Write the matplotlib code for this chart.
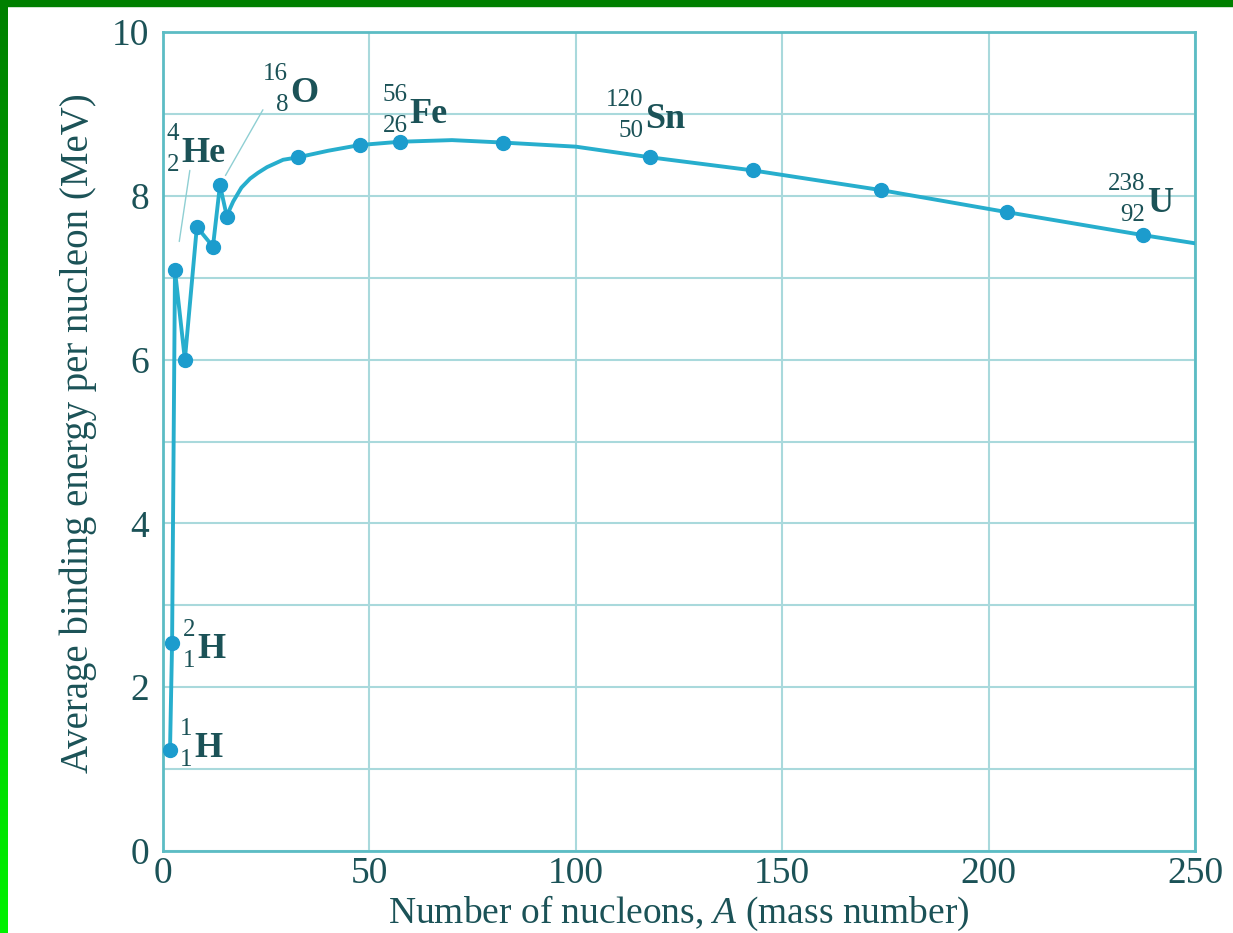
import numpy as np
import matplotlib
matplotlib.use("Agg")
import matplotlib.pyplot as plt
from matplotlib.patches import Rectangle
from matplotlib.ticker import MultipleLocator


# nuclides shown as dots
mass_numbers = [1.7, 2.2, 2.9, 5.3, 8.2, 12.1, 13.8, 15.5, 32.7, 47.7, 57.4,
                82.4, 118.0, 142.9, 173.9, 204.5, 237.4]
binding_energy = [1.23, 2.54, 7.09, 6.00, 7.62, 7.38, 8.13, 7.74, 8.47, 8.62, 8.66,
                  8.65, 8.47, 8.31, 8.07, 7.80, 7.52]

# connecting curve (includes the smooth bend after oxygen and the tail to A=250)
curve_A = [1.7, 2.2, 2.9, 5.3, 8.2, 12.1, 13.8, 15.5, 16.2, 17.0, 19.0, 21.1, 23.0, 25.2,
           29.1, 32.7, 40.0, 47.7, 57.4, 70.0, 82.4, 100.0, 118.0, 142.9, 173.9, 204.5,
           237.4, 250.0]
curve_E = [1.23, 2.54, 7.09, 6.00, 7.62, 7.38, 8.13, 7.74, 7.84, 7.93, 8.10, 8.21, 8.28, 8.35,
           8.44, 8.47, 8.55, 8.62, 8.66, 8.68, 8.65, 8.60, 8.47, 8.31, 8.07, 7.80,
           7.52, 7.42]

# isotope labels: symbol, mass number, atomic number
label_symbols = ["H", "H", "He", "O", "Fe", "Sn", "U"]
label_mass = ["1", "2", "4", "16", "56", "120", "238"]
label_charge = ["1", "1", "2", "8", "26", "50", "92"]

x_ticks = [0, 50, 100, 150, 200, 250]
y_ticks = [0, 2, 4, 6, 8, 10]

LINE = "#27aecd"
DOT = "#1c9ccd"
GRID = "#a9d9dc"
SPINE = "#5cbcc4"
INK = "#1b5257"
SERIF = ["Liberation Serif", "DejaVu Serif"]


def add_frame(fig):
    # dark green strip along the top, green gradient down the left side
    fig.patches.append(Rectangle((0, 1 - 6 / 933), 1, 6 / 933,
                                 transform=fig.transFigure, color="#008000", zorder=5))
    side = fig.add_axes([0, 0, 8 / 1233, 1])
    grad = np.linspace(0, 1, 256)
    cols = np.zeros((256, 1, 3))
    cols[:, 0, 1] = 0.5 + 0.45 * grad
    side.imshow(cols, aspect="auto", origin="upper")
    side.axis("off")


def plot_binding_energy():
    plt.rcParams["font.family"] = SERIF
    plt.rcParams["mathtext.fontset"] = "custom"
    plt.rcParams["mathtext.rm"] = "Liberation Serif"
    plt.rcParams["mathtext.it"] = "Liberation Serif:italic"

    fig = plt.figure(figsize=(12.33, 9.33), dpi=100)
    ax = fig.add_axes([163 / 1233, 1 - 851 / 933, (1195 - 163) / 1233, (851 - 32) / 933])

    ax.plot(curve_A, curve_E, color=LINE, lw=2.8, zorder=3,
            solid_joinstyle="round", solid_capstyle="round")
    ax.plot(mass_numbers, binding_energy, "o", color=DOT, ms=10, zorder=4)

    ax.set_xlim(0, 250)
    ax.set_ylim(0, 10)
    ax.set_xticks(x_ticks)
    ax.set_yticks(y_ticks)
    ax.yaxis.set_minor_locator(MultipleLocator(1))
    ax.grid(True, which="both", color=GRID, lw=1.5, zorder=1)
    ax.tick_params(which="both", length=0)
    ax.tick_params(axis="x", labelsize=27, labelcolor=INK, pad=4)
    ax.tick_params(axis="y", labelsize=27, labelcolor=INK, pad=10)
    for s in ax.spines.values():
        s.set_color(SPINE)
        s.set_linewidth(2)

    ax.set_xlabel("Number of nucleons, $\\mathit{A}$ (mass number)", fontsize=27, color=INK)
    ax.set_ylabel("Average binding energy per nucleon (MeV)", fontsize=28, color=INK)
    ax.xaxis.set_label_coords(0.5, -0.052)
    ax.yaxis.set_label_coords(-0.064, 0.51)

    # label anchors (left edge of the symbol, baseline)
    anchors = [(7.6, 1.15), (8.4, 2.36), (4.4, 8.41), (30.8, 9.15),
               (59.8, 8.89), (116.8, 8.83), (238.4, 7.80)]
    for sym, a, z, (x, y) in zip(label_symbols, label_mass, label_charge, anchors):
        ax.text(x, y, sym, fontsize=26, fontweight="bold", color=INK,
                ha="left", va="baseline", zorder=6)
        ax.annotate(a, (x, y), xytext=(-2, 28), textcoords="offset pixels",
                    fontsize=18, color=INK, ha="right", va="center", zorder=6)
        ax.annotate(z, (x, y), xytext=(-2, -3), textcoords="offset pixels",
                    fontsize=18, color=INK, ha="right", va="center", zorder=6)

    # thin leader lines for He and O
    ax.annotate("", xy=(mass_numbers[2], binding_energy[2]), xytext=(6.5, 8.31),
                arrowprops=dict(arrowstyle="-", color="#8fcfd3", lw=1,
                                shrinkA=0, shrinkB=21))
    ax.annotate("", xy=(mass_numbers[6], binding_energy[6]), xytext=(24.2, 9.05),
                arrowprops=dict(arrowstyle="-", color="#8fcfd3", lw=1,
                                shrinkA=0, shrinkB=8))

    add_frame(fig)
    fig.savefig("out.png", dpi=100, facecolor="white")


if __name__ == "__main__":
    plot_binding_energy()
